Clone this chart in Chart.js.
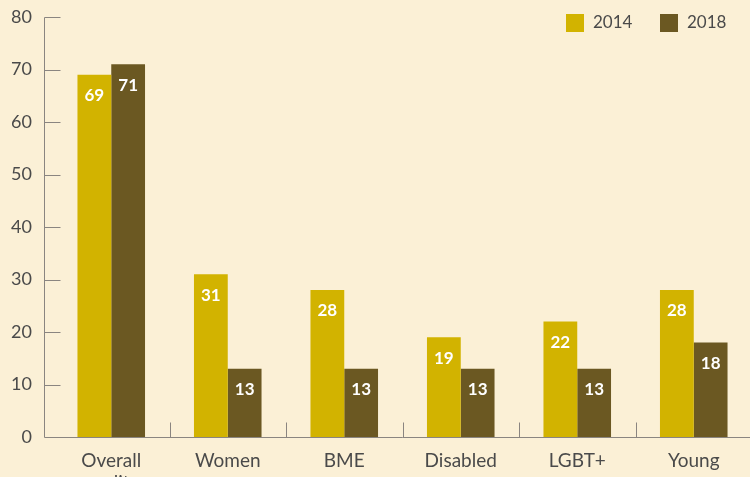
<!DOCTYPE html>
<html>
<head>
<meta charset="utf-8">
<script src="https://cdn.jsdelivr.net/npm/chart.js@4"></script>
<style>
  html, body { margin: 0; padding: 0; background: #fbf0d6; overflow: hidden; }
  #wrap { position: relative; width: 760px; height: 477px; }
</style>
</head>
<body>
<div id="wrap"><canvas id="c" width="760" height="477"></canvas></div>
<script>
const categories = [["Overall", "quality"], "Women", "BME", "Disabled", "LGBT+", "Young"];
const series2014 = [69, 31, 28, 19, 22, 28];
const series2018 = [71, 13, 13, 13, 13, 18];
const seriesNames = ["2014", "2018"];
const yTicks = [0, 10, 20, 30, 40, 50, 60, 70, 80];

const COL14 = "#d2b300";
const COL18 = "#6b5822";
const AXIS = "#8a8580";
const TEXT = "#4a4a4a";
const FONT = "Lato, 'Open Sans', sans-serif";

const axisPlugin = {
  id: "axisPlugin",
  afterDraw(chart) {
    const ctx = chart.ctx;
    const y = chart.scales.y;
    const x = chart.scales.x;
    const ax = 44.5;
    ctx.save();
    ctx.strokeStyle = AXIS;
    ctx.lineWidth = 1;
    ctx.beginPath();
    const base = Math.round(y.getPixelForValue(0)) + 0.5;
    ctx.moveTo(ax, Math.round(y.getPixelForValue(80)) + 0.5);
    ctx.lineTo(ax, base);
    ctx.lineTo(chart.width, base);
    yTicks.forEach(v => {
      if (v === 0) return;
      const py = Math.round(y.getPixelForValue(v)) + 0.5;
      ctx.moveTo(ax, py);
      ctx.lineTo(ax + 16, py);
    });
    for (let i = 0; i < categories.length - 1; i++) {
      const px = Math.round((x.getPixelForValue(i) + x.getPixelForValue(i + 1)) / 2) + 0.5;
      ctx.moveTo(px, base);
      ctx.lineTo(px, base - 15);
    }
    ctx.stroke();
    // value labels
    ctx.fillStyle = "#ffffff";
    ctx.font = "bold 17px " + FONT;
    ctx.textAlign = "center";
    ctx.textBaseline = "middle";
    chart.data.datasets.forEach((ds, di) => {
      const meta = chart.getDatasetMeta(di);
      meta.data.forEach((bar, i) => {
        ctx.fillText(String(ds.data[i]), bar.x, bar.y + 21);
      });
    });
    // legend
    const legendX = [566, 660];
    ctx.font = "17px " + FONT;
    ctx.textAlign = "left";
    chart.data.datasets.forEach((ds, di) => {
      ctx.fillStyle = ds.backgroundColor;
      ctx.fillRect(legendX[di], 14, 18, 18);
      ctx.fillStyle = TEXT;
      ctx.fillText(ds.label, legendX[di] + 27, 23);
    });
    ctx.restore();
  }
};

new Chart(document.getElementById("c"), {
  type: "bar",
  data: {
    labels: categories,
    datasets: [
      { label: seriesNames[0], data: series2014, backgroundColor: COL14,
        categoryPercentage: 0.58, barPercentage: 1.0 },
      { label: seriesNames[1], data: series2018, backgroundColor: COL18,
        categoryPercentage: 0.58, barPercentage: 1.0 }
    ]
  },
  options: {
    responsive: false,
    animation: false,
    devicePixelRatio: 1,
    layout: { padding: { top: 17, right: 8, left: 0, bottom: 0 } },
    plugins: {
      legend: { display: false },
      tooltip: { enabled: false }
    },
    scales: {
      x: {
        afterFit(scale) { scale.height = 40; scale.paddingLeft = 0; scale.paddingRight = 0; scale.paddingTop = 0; scale.paddingBottom = 0; },
        grid: { display: false, drawTicks: false },
        border: { display: false },
        ticks: {
          color: TEXT,
          padding: 12,
          font: { size: 19, family: FONT },
          maxRotation: 0,
          autoSkip: false
        }
      },
      y: {
        min: 0,
        max: 80,
        afterBuildTicks(scale) { scale.ticks = yTicks.map(v => ({ value: v })); },
        afterFit(scale) { scale.width = 53; scale.paddingTop = 0; scale.paddingBottom = 0; },
        grid: { display: false, drawTicks: false },
        border: { display: false },
        ticks: {
          color: TEXT,
          padding: 21,
          font: { size: 18, family: FONT }
        }
      }
    }
  },
  plugins: [axisPlugin]
});
</script>
</body>
</html>
